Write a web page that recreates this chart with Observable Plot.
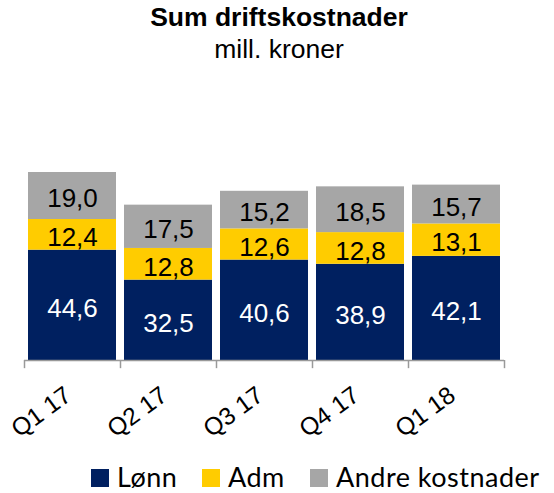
<!DOCTYPE html>
<html>
<head>
<meta charset="utf-8">
<script src="https://cdn.jsdelivr.net/npm/d3@7"></script>
<script src="https://cdn.jsdelivr.net/npm/@observablehq/plot@0.6"></script>
<style>
  html, body { margin: 0; padding: 0; background: #fff; }
  #wrap { position: relative; width: 554px; height: 493px; overflow: hidden; font-family: "Liberation Sans", Arial, sans-serif; }
  #title { position: absolute; left: 0; width: 558px; top: 2px; text-align: center; font-weight: bold; font-size: 26.5px; color: #000; line-height: 30px; }
  #subtitle { position: absolute; left: 0; width: 558px; top: 34px; text-align: center; font-size: 26.5px; color: #000; line-height: 30px; }
  #chart { position: absolute; left: 0; top: 62px; }
  .item { position: absolute; top: 463px; height: 27px; display: flex; align-items: center; font-family: Lato, "Open Sans", sans-serif; font-size: 27px; letter-spacing: 0.5px; line-height: 1; color: #000; white-space: nowrap; }
  .sw { width: 18px; height: 18px; margin-right: 8px; margin-top: 3px; }
</style>
</head>
<body>
<div id="wrap">
  <div id="title">Sum driftskostnader</div>
  <div id="subtitle">mill. kroner</div>
  <div id="chart"></div>
</div>
<script>
const categories = ["Q1 17", "Q2 17", "Q3 17", "Q4 17", "Q1 18"];
const series = ["Lønn", "Adm", "Andre kostnader"];
const lonn = [44.6, 32.5, 40.6, 38.9, 42.1];
const adm = [12.4, 12.8, 12.6, 12.8, 13.1];
const andre = [19.0, 17.5, 15.2, 18.5, 15.7];
const colors = ["#002060", "#FFCC00", "#A6A6A6"];
const labelColors = ["#ffffff", "#000000", "#000000"];

const seriesValues = [lonn, adm, andre];
const data = [];
series.forEach((s, si) => {
  categories.forEach((c, ci) => {
    data.push({cat: c, series: s, value: seriesValues[si][ci], si});
  });
});
const fmt = v => v.toFixed(1).replace(".", ",");

const width = 554, height = 388;
const marginLeft = 24, marginRight = 50, marginTop = 110, marginBottom = 90;
const step = (width - marginLeft - marginRight) / categories.length;

const chart = Plot.plot({
  width, height, marginLeft, marginRight, marginTop, marginBottom,
  style: {fontFamily: "'Liberation Sans', Arial, sans-serif", background: "transparent", overflow: "visible"},
  x: {domain: categories, paddingInner: 0.08, paddingOuter: 0.04, label: null},
  y: {domain: [0, 76], axis: null},
  color: {domain: series, range: colors},
  marks: [
    Plot.barY(data, Plot.stackY({x: "cat", y: "value", fill: "series", order: series})),
    Plot.text(data, Plot.stackY({
      x: "cat", y: "value", order: series,
      text: d => fmt(d.value),
      fill: d => labelColors[d.si],
      fontSize: 26, dy: 3
    })),
    Plot.ruleY([0], {stroke: "#999", strokeWidth: 1.5}),
    Plot.ruleX(categories, {x: d => d, y1: 0, y2: -3.3, dx: -step / 2, stroke: "#999", strokeWidth: 1.5}),
    Plot.ruleX(categories.slice(-1), {x: d => d, y1: 0, y2: -3.3, dx: step / 2, stroke: "#999", strokeWidth: 1.5}),
    Plot.axisX({tickSize: 0, tickPadding: 32, tickRotate: -36, fontSize: 24.5, label: null, textAnchor: "end", fill: "#000", dx: -4})
  ]
});
document.getElementById("chart").appendChild(chart);

const wrap = document.getElementById("wrap");
const legendLeft = [91, 202, 310];
series.forEach((s, i) => {
  const item = document.createElement("div");
  item.className = "item";
  item.style.left = legendLeft[i] + "px";
  const sw = document.createElement("div");
  sw.className = "sw";
  sw.style.background = colors[i];
  const t = document.createElement("span");
  t.textContent = s;
  item.appendChild(sw);
  item.appendChild(t);
  wrap.appendChild(item);
});
</script>
</body>
</html>
